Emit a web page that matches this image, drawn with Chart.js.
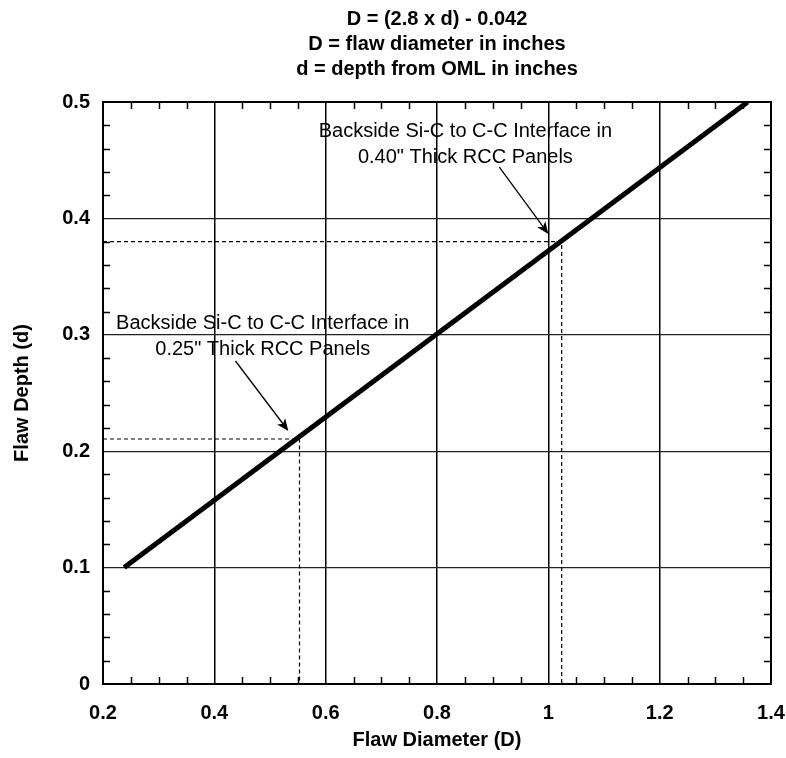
<!DOCTYPE html>
<html><head><meta charset="utf-8">
<script src="https://cdn.jsdelivr.net/npm/chart.js@4.4.1/dist/chart.umd.min.js"></script>
<style>html,body{margin:0;padding:0;background:#fff}#wrap{width:786px;height:758px}</style>
</head><body><div id="wrap"><canvas id="c" width="786" height="758"></canvas></div>
<script>
const titleLines = ['D = (2.8 x d) - 0.042', 'D = flaw diameter in inches', 'd = depth from OML in inches'];
const xTickLabels = ['0.2', '0.4', '0.6', '0.8', '1', '1.2', '1.4'];
const yTickLabels = ['0', '0.1', '0.2', '0.3', '0.4', '0.5'];
const flawDiameter = [0.238, 1.358];
const flawDepth = [0.1, 0.5];
const markerDiameter = [0.553, 1.024];
const markerDepth = [0.2105, 0.380];
const noteLines = [
  ['Backside Si-C to C-C Interface in', '0.25" Thick RCC Panels'],
  ['Backside Si-C to C-C Interface in', '0.40" Thick RCC Panels']
];

// placement of the notes (data coordinates), kept separate from data
const notePos = [{x: 0.487, y: 0.310}, {x: 0.851, y: 0.475}];
const arrowPos = [
  {x1: 0.438, y1: 0.2775, x2: 0.533, y2: 0.2174},
  {x1: 0.912, y1: 0.444, x2: 1.000, y2: 0.3866}
];

const FONT = "'Liberation Sans', Arial, sans-serif";
Chart.defaults.color = '#000';
Chart.defaults.font.family = FONT;

const mainData = flawDiameter.map((D, i) => ({x: D, y: flawDepth[i]}));
const markerSets = markerDiameter.map((D, i) => ({
  data: [{x: 0.2, y: markerDepth[i]}, {x: D, y: markerDepth[i]}, {x: D, y: 0}],
  borderColor: '#000', borderWidth: 1.2, borderDash: [4, 3],
  pointRadius: 0, fill: false, tension: 0
}));

const framePlugin = {
  id: 'frame',
  afterDatasetsDraw(chart) {
    const {ctx, chartArea: a, scales: {x, y}} = chart;
    ctx.save();
    // minor ticks
    ctx.strokeStyle = '#000';
    ctx.lineWidth = 1.5;
    ctx.beginPath();
    for (let i = 1; i < 24; i++) {
      if (i % 4 === 0) continue;
      const px = Math.round(x.getPixelForValue(0.2 + i * 0.05)) + 0.5;
      ctx.moveTo(px, a.bottom); ctx.lineTo(px, a.bottom - 7);
      ctx.moveTo(px, a.top); ctx.lineTo(px, a.top + 7);
    }
    for (let j = 1; j < 25; j++) {
      if (j % 5 === 0) continue;
      const py = Math.round(y.getPixelForValue(j * 0.02)) + 0.5;
      ctx.moveTo(a.left, py); ctx.lineTo(a.left + 7, py);
      ctx.moveTo(a.right, py); ctx.lineTo(a.right - 7, py);
    }
    ctx.stroke();
    // frame
    ctx.lineWidth = 2;
    ctx.strokeRect(a.left, a.top, a.right - a.left, a.bottom - a.top);

    // notes
    ctx.fillStyle = '#000';
    ctx.font = '20px ' + FONT;
    ctx.textAlign = 'center';
    ctx.textBaseline = 'middle';
    noteLines.forEach((lines, k) => {
      const cx = x.getPixelForValue(notePos[k].x);
      const cy = y.getPixelForValue(notePos[k].y);
      lines.forEach((t, li) => ctx.fillText(t, cx, cy + li * 26));
    });
    // arrows
    ctx.lineWidth = 1.3;
    arrowPos.forEach(p => {
      const x1 = x.getPixelForValue(p.x1), y1 = y.getPixelForValue(p.y1);
      const x2 = x.getPixelForValue(p.x2), y2 = y.getPixelForValue(p.y2);
      const ang = Math.atan2(y2 - y1, x2 - x1);
      const L = 12, W = 5;
      const bx = x2 - L * Math.cos(ang), by = y2 - L * Math.sin(ang);
      ctx.beginPath(); ctx.moveTo(x1, y1); ctx.lineTo(bx + 3 * Math.cos(ang), by + 3 * Math.sin(ang)); ctx.stroke();
      ctx.beginPath();
      ctx.moveTo(x2, y2);
      ctx.lineTo(bx - W * Math.sin(ang), by + W * Math.cos(ang));
      ctx.lineTo(bx + 3 * Math.cos(ang), by + 3 * Math.sin(ang));
      ctx.lineTo(bx + W * Math.sin(ang), by - W * Math.cos(ang));
      ctx.closePath(); ctx.fill();
    });
    ctx.restore();
  }
};

new Chart(document.getElementById('c'), {
  type: 'line',
  data: {
    datasets: [
      ...markerSets,
      {data: mainData, borderColor: '#000', borderWidth: 5, pointRadius: 0, fill: false, borderCapStyle: 'butt'}
    ]
  },
  options: {
    responsive: false,
    animation: false,
    layout: {padding: {left: 0, right: 15, top: 0, bottom: 0}},
    plugins: {
      legend: {display: false},
      tooltip: {enabled: false},
      title: {
        display: true, text: titleLines, fullSize: false, color: '#000',
        font: {size: 20, weight: 'bold', family: FONT, lineHeight: 1.25},
        padding: {top: 7, bottom: 20}
      }
    },
    scales: {
      x: {
        type: 'linear', min: 0.2, max: 1.4,
        afterBuildTicks: s => { s.ticks = xTickLabels.map(t => ({value: parseFloat(t)})); },
        afterFit: s => { s.height = 74; s.paddingLeft = 0; s.paddingRight = 0; },
        ticks: {
          callback: (v, i) => xTickLabels[i], autoSkip: false, maxRotation: 0,
          font: {size: 20, weight: 'bold', family: FONT}, color: '#000', padding: 17
        },
        grid: {color: '#000', lineWidth: 1.5, drawTicks: false},
        border: {display: false},
        title: {
          display: true, text: 'Flaw Diameter (D)', color: '#000',
          font: {size: 20, weight: 'bold', family: FONT, lineHeight: 1.2},
          padding: {top: 0, bottom: 6}
        }
      },
      y: {
        type: 'linear', min: 0, max: 0.5,
        afterBuildTicks: s => { s.ticks = yTickLabels.map(t => ({value: parseFloat(t)})); },
        afterFit: s => { s.width = 103; s.paddingTop = 0; s.paddingBottom = 0; },
        ticks: {
          callback: (v, i) => yTickLabels[i], autoSkip: false,
          font: {size: 20, weight: 'bold', family: FONT}, color: '#000', padding: 13
        },
        grid: {color: '#222', lineWidth: 1.2, drawTicks: false},
        border: {display: false},
        title: {
          display: true, text: 'Flaw Depth (d)', color: '#000',
          font: {size: 20, weight: 'bold', family: FONT, lineHeight: 1.2},
          padding: {top: 10, bottom: 0}
        }
      }
    }
  },
  plugins: [framePlugin]
});
</script>
</body></html>
